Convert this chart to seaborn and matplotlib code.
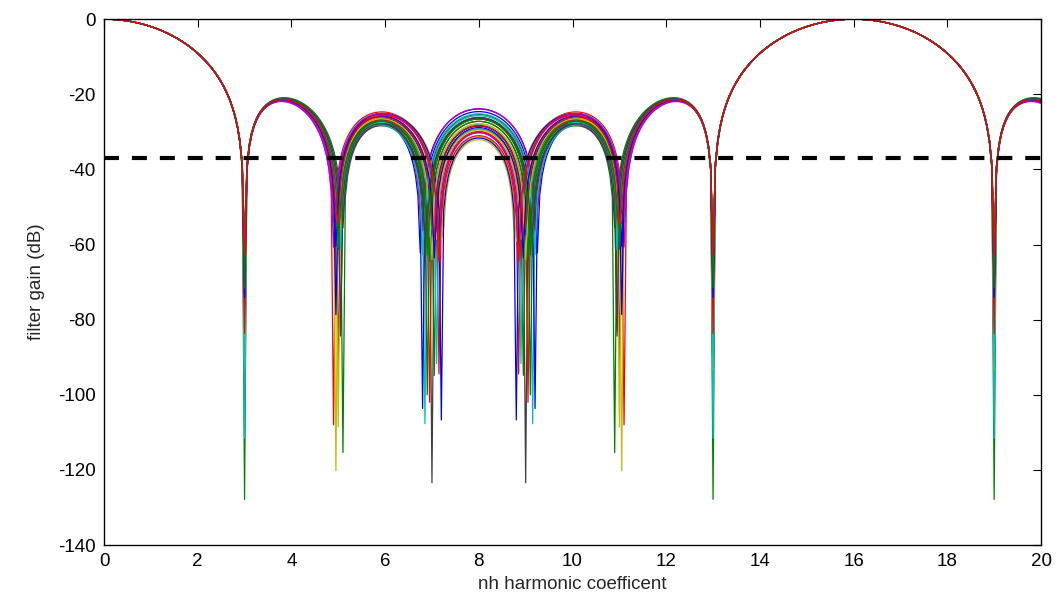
import numpy as np
import pandas as pd
import matplotlib
matplotlib.use('Agg')
import matplotlib.pyplot as plt
import seaborn as sns

# Notch (zero) positions of each filter curve, in harmonic units.
# The notches at 13 and 19 mirror the one at 3 (period 16), 9 and 11 mirror 7 and 5.
notch_3 = [3.0030, 3.0000018, 2.99996, 3.000012, 2.9992, 3.0008, 3.0041,
           2.9970, 2.9985, 3.0025, 2.9950, 3.0011, 2.99990, 3.0035,
           3.0015, 2.9980, 3.0050, 2.9999, 3.0007, 2.9965, 3.0020,
           2.9990, 3.0045, 3.0003, 2.9975, 3.0012, 3.0028, 2.9960,
           3.0009, 2.9988, 3.0033]
notch_5 = [4.96, 5.10002, 4.90004, 5.02, 4.93, 4.95001, 5.0508,
           4.98, 5.04, 5.0003, 4.92, 5.07, 4.97, 5.01,
           4.99, 5.03, 4.94, 5.06, 4.91, 5.00004, 5.08,
           4.9512, 5.02, 4.97, 5.04, 4.93, 4.99, 5.0493,
           4.96, 5.01, 4.98]
notch_7 = [6.7603, 6.9802, 7.1503, 6.85006, 6.9208, 7.2204, 7.000011,
           6.80009, 7.0503, 6.95012, 7.1004, 6.8809, 7.1807, 6.8306,
           7.0207, 6.90015, 7.1202, 6.9706, 6.7806, 7.0808, 6.8607,
           7.20008, 6.9409, 7.0305, 6.8106, 7.1405, 6.9904, 6.8705,
           7.0603, 6.9107, 7.1606]

threshold_db = -37
x_ticks = [0, 2, 4, 6, 8, 10, 12, 14, 16, 18, 20]
y_ticks = [-140, -120, -100, -80, -60, -40, -20, 0]

# MATLAB default line colour order
matlab_colors = ['#0000ff', '#008000', '#ff0000', '#00bfbf', '#bf00bf', '#bfbf00', '#404040']

harmonics = np.linspace(0, 20, 401)


def filter_gain(zeros):
    w = 2 * np.pi * harmonics / 16
    h = np.ones_like(w)
    dc = 1.0
    for z in zeros:
        c = np.cos(2 * np.pi * z / 16)
        h = h * (np.cos(w) - c)
        dc = dc * (1 - c)
    return 20 * np.log10(np.abs(h / dc))


rows = []
for i, zs in enumerate(zip(notch_3, notch_5, notch_7)):
    rows.append(pd.DataFrame({'h': harmonics, 'gain': filter_gain(zs), 'curve': f'c{i:02d}'}))
df = pd.concat(rows, ignore_index=True)

sns.set_style('white')
plt.rcParams['font.family'] = ['Liberation Sans', 'DejaVu Sans']
plt.rcParams['axes.unicode_minus'] = False

fig = plt.figure(figsize=(10.56, 6.07), dpi=100)
ax = fig.add_axes([0.0985, 0.102, 0.8873, 0.8665])

palette = [matlab_colors[i % 7] for i in range(len(notch_3))]
sns.lineplot(data=df, x='h', y='gain', hue='curve', palette=palette,
             estimator=None, legend=False, linewidth=0.9, ax=ax)
ax.plot([0, 20], [threshold_db, threshold_db], color='black', linestyle=(0, (3.6, 3.1)),
        linewidth=3)

ax.set_xlim(0, 20)
ax.set_ylim(-140, 0)
ax.set_xticks(x_ticks)
ax.set_yticks(y_ticks)
ax.set_xlabel('nh harmonic coefficent', fontsize=13.5, labelpad=4)
ax.set_ylabel('filter gain (dB)', fontsize=13.5, labelpad=9)
ax.tick_params(direction='in', top=True, right=True, length=6, width=0.8, pad=6,
               labelsize=13.5, colors='black')
for s in ax.spines.values():
    s.set_visible(True)
    s.set_color('black')
    s.set_linewidth(1)

fig.savefig('out.png', dpi=100)
